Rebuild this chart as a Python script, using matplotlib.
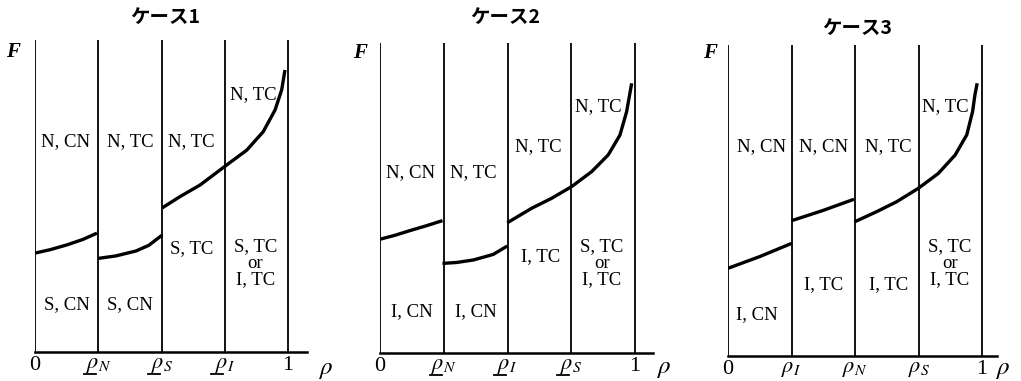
import matplotlib
matplotlib.use('Agg')
import matplotlib.pyplot as plt

plt.rcParams['mathtext.fontset'] = 'stix'

# boundaries on the rho axis (0, three thresholds, 1)
bounds = [0.0, 0.25, 0.5, 0.75, 1.0]

titles = ['ケース1', 'ケース2', 'ケース3']
tick_names = [
    ['0', r'$\rho_N$', r'$\rho_S$', r'$\rho_I$', '1'],
    ['0', r'$\rho_N$', r'$\rho_I$', r'$\rho_S$', '1'],
    ['0', r'$\rho_I$', r'$\rho_N$', r'$\rho_S$', '1'],
]
underlined = [True, True, False]

# F(rho) curve pieces, one list of pieces per case
curve1_x = [[0.0, 0.06, 0.125, 0.19, 0.245],
            [0.25, 0.32, 0.40, 0.45, 0.503],
            [0.503, 0.573, 0.652, 0.757, 0.837, 0.902, 0.949, 0.975, 0.988]]
curve1_y = [[0.317, 0.328, 0.343, 0.361, 0.381],
            [0.300, 0.308, 0.324, 0.342, 0.375],
            [0.462, 0.498, 0.535, 0.599, 0.647, 0.706, 0.776, 0.840, 0.904]]
curve2_x = [[0.0, 0.06, 0.118, 0.18, 0.245],
            [0.245, 0.30, 0.366, 0.444, 0.499],
            [0.499, 0.595, 0.673, 0.752, 0.830, 0.895, 0.941, 0.967, 0.987]]
curve2_y = [[0.367, 0.380, 0.395, 0.410, 0.427],
            [0.289, 0.292, 0.300, 0.318, 0.345],
            [0.420, 0.467, 0.499, 0.537, 0.585, 0.639, 0.703, 0.778, 0.870]]
curve3_x = [[0.0, 0.126, 0.250],
            [0.25, 0.374, 0.496],
            [0.5, 0.585, 0.664, 0.749, 0.828, 0.894, 0.940, 0.963, 0.972, 0.981]]
curve3_y = [[0.282, 0.320, 0.362],
            [0.435, 0.468, 0.504],
            [0.432, 0.464, 0.496, 0.539, 0.587, 0.646, 0.711, 0.786, 0.839, 0.877]]
curves = [(curve1_x, curve1_y), (curve2_x, curve2_y), (curve3_x, curve3_y)]

# region labels: text, x, y (data units)
labels1 = [('N, CN', 0.119, 0.674), ('N, TC', 0.375, 0.674), ('N, TC', 0.619, 0.674),
           ('N, TC', 0.863, 0.824), ('S, CN', 0.125, 0.151), ('S, CN', 0.374, 0.151),
           ('S, TC', 0.619, 0.332), ('S, TC\nor\nI, TC', 0.871, 0.284)]
labels2 = [('N, CN', 0.118, 0.582), ('N, TC', 0.366, 0.582), ('N, TC', 0.621, 0.665),
           ('N, TC', 0.856, 0.794), ('I, CN', 0.124, 0.133), ('I, CN', 0.375, 0.133),
           ('I, TC', 0.629, 0.311), ('S, TC\nor\nI, TC', 0.869, 0.289)]
labels3 = [('N, CN', 0.133, 0.673), ('N, CN', 0.375, 0.673), ('N, TC', 0.631, 0.673),
           ('N, TC', 0.854, 0.802), ('I, CN', 0.113, 0.132), ('I, TC', 0.375, 0.228),
           ('I, TC', 0.631, 0.228), ('S, TC\nor\nI, TC', 0.874, 0.298)]
labels = [labels1, labels2, labels3]

W, H = 1021, 381
fig = plt.figure(figsize=(W / 100, H / 100), dpi=100)

# axes boxes in pixels: left, bottom(y from top), px per unit, top(y from top), right end of axis line
boxes = [(35, 352, 253, 40, 307), (380, 353, 255, 43, 653), (728, 356, 254, 45, 997)]
title_pos = [(165, 17), (505, 17), (857, 28)]
f_pos = [(13, 52), (360, 53), (710, 53)]
rho_pos = [(325, 369), (663, 368), (1002, 369)]

serif = 'Liberation Serif'

for k in range(3):
    left, base, ppu, top, right = boxes[k]
    ax = fig.add_axes([left / W, (H - base) / H, (right - left) / W, (base - top) / H])
    ax.set_xlim(0, (right - left) / ppu)
    ax.set_ylim(0, 1)
    for s in ['top', 'right', 'left']:
        ax.spines[s].set_visible(False)
    ax.spines['bottom'].set_linewidth(1.8)
    ax.set_yticks([])
    ax.vlines(bounds, 0, 1, colors='black', lw=1.3)
    cx, cy = curves[k]
    for xs, ys in zip(cx, cy):
        ax.plot(xs, ys, color='black', lw=2.4, solid_capstyle='butt',
                solid_joinstyle='round')
    for txt, x, y in labels[k]:
        ax.text(x, y, txt, ha='center', va='center', fontsize=13.5,
                family=serif, linespacing=0.95)
    ax.set_xticks(bounds)
    ax.set_xticklabels(tick_names[k], fontsize=16, family=serif)
    ax.tick_params(axis='x', length=0, pad=3)
    if underlined[k]:
        tr = ax.get_xaxis_transform()
        for b in bounds[1:4]:
            ax.plot([b - 14 / ppu, b - 2 / ppu], [-0.072, -0.072], color='black',
                    lw=1.3, transform=tr, clip_on=False)
    rx, ry = rho_pos[k]
    fig.text(rx / W, 1 - ry / H, r'$\rho$', fontsize=18, ha='center', va='center')
    tx, ty = title_pos[k]
    fig.text(tx / W, 1 - ty / H, titles[k], ha='center', va='center', fontsize=14,
             fontweight='bold', family=['Noto Sans CJK JP', 'DejaVu Sans'])
    fx, fy = f_pos[k]
    fig.text(fx / W, 1 - fy / H, 'F', ha='center', va='center', fontsize=15,
             family=serif, style='italic', fontweight='bold')

fig.savefig('out.png', dpi=100)
